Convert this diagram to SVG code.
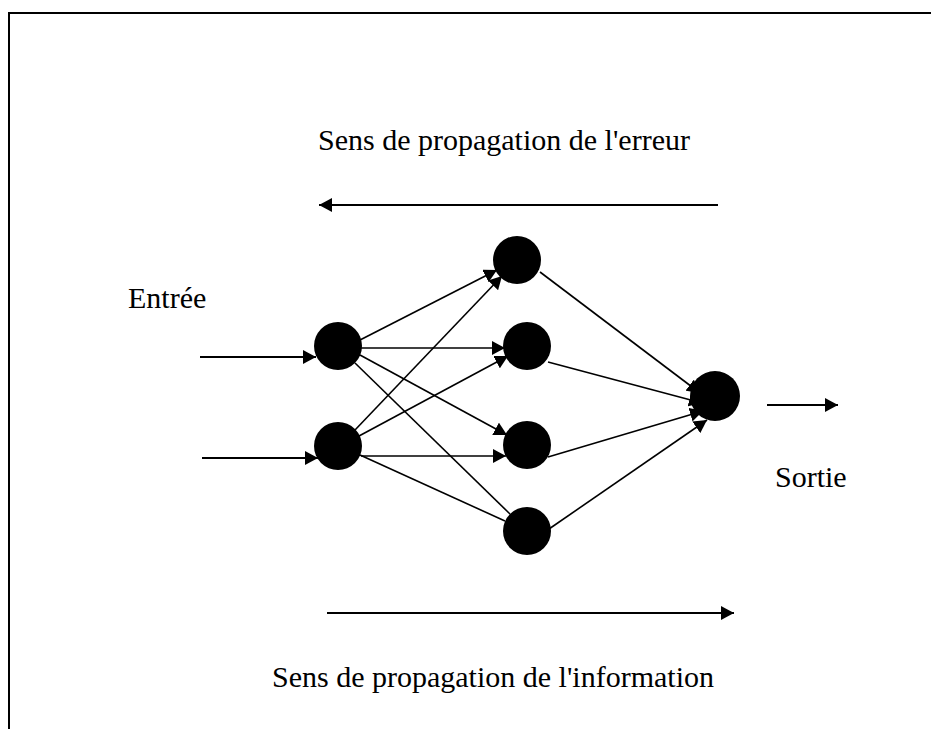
<svg xmlns="http://www.w3.org/2000/svg" width="931" height="729" viewBox="0 0 931 729">
  <defs>
    <marker id="ah" markerUnits="userSpaceOnUse" markerWidth="14" markerHeight="14" refX="13" refY="7" orient="auto">
      <path d="M0,0 L13,7 L0,14 Z" fill="#000"/>
    </marker>
    <style>
      .lbl { font-family: "Liberation Serif", "Times New Roman", serif; font-size: 30px; fill: #000; }
      .edge { stroke: #000; stroke-width: 1.6; fill: none; }
      .arr { stroke: #000; stroke-width: 2; fill: none; marker-end: url(#ah); }
      .node { fill: #000; }
    </style>
  </defs>
  <rect width="931" height="729" fill="#fff"/>
  <path d="M9,729 V13 H931" fill="none" stroke="#000" stroke-width="2"/>

  <text class="lbl" x="318" y="150">Sens de propagation de l'erreur</text>
  <text class="lbl" x="128" y="308">Entrée</text>
  <text class="lbl" x="775" y="487">Sortie</text>
  <text class="lbl" x="272" y="687">Sens de propagation de l'information</text>

  <g id="connectors">
    <line class="arr" x1="718" y1="205" x2="319" y2="205"/>
    <line class="arr" x1="327" y1="613" x2="734" y2="613"/>
    <line class="arr" x1="767" y1="405" x2="838" y2="405"/>
    <line class="arr" x1="200" y1="357" x2="316" y2="357"/>
    <line class="arr" x1="202" y1="458" x2="318" y2="458"/>

    <line class="edge" x1="360" y1="340" x2="497" y2="270" marker-end="url(#ah)"/>
    <line class="edge" x1="355" y1="430" x2="502" y2="276" marker-end="url(#ah)"/>
    <line class="edge" x1="361" y1="348" x2="505" y2="348" marker-end="url(#ah)"/>
    <line class="edge" x1="359" y1="436" x2="508" y2="356" marker-end="url(#ah)"/>
    <line class="edge" x1="360" y1="355" x2="507" y2="435" marker-end="url(#ah)"/>
    <line class="edge" x1="361" y1="456" x2="506" y2="456" marker-end="url(#ah)"/>
    <line class="edge" x1="355" y1="363" x2="510" y2="514"/>
    <line class="edge" x1="360" y1="455" x2="505" y2="521"/>

    <line class="edge" x1="540" y1="272" x2="700" y2="393" marker-end="url(#ah)"/>
    <line class="edge" x1="548" y1="362" x2="702" y2="403" marker-end="url(#ah)"/>
    <line class="edge" x1="548" y1="457" x2="703" y2="411" marker-end="url(#ah)"/>
    <line class="edge" x1="549" y1="529" x2="707" y2="420" marker-end="url(#ah)"/>
  </g>

  <g id="in1"><circle class="node" cx="338" cy="346" r="24"/></g>
  <g id="in2"><circle class="node" cx="338" cy="446" r="24"/></g>
  <g id="h1"><circle class="node" cx="517" cy="260" r="24"/></g>
  <g id="h2"><circle class="node" cx="527" cy="346" r="24"/></g>
  <g id="h3"><circle class="node" cx="527" cy="445" r="24"/></g>
  <g id="h4"><circle class="node" cx="527" cy="531" r="24"/></g>
  <g id="out"><circle class="node" cx="715" cy="396" r="25"/></g>
</svg>
